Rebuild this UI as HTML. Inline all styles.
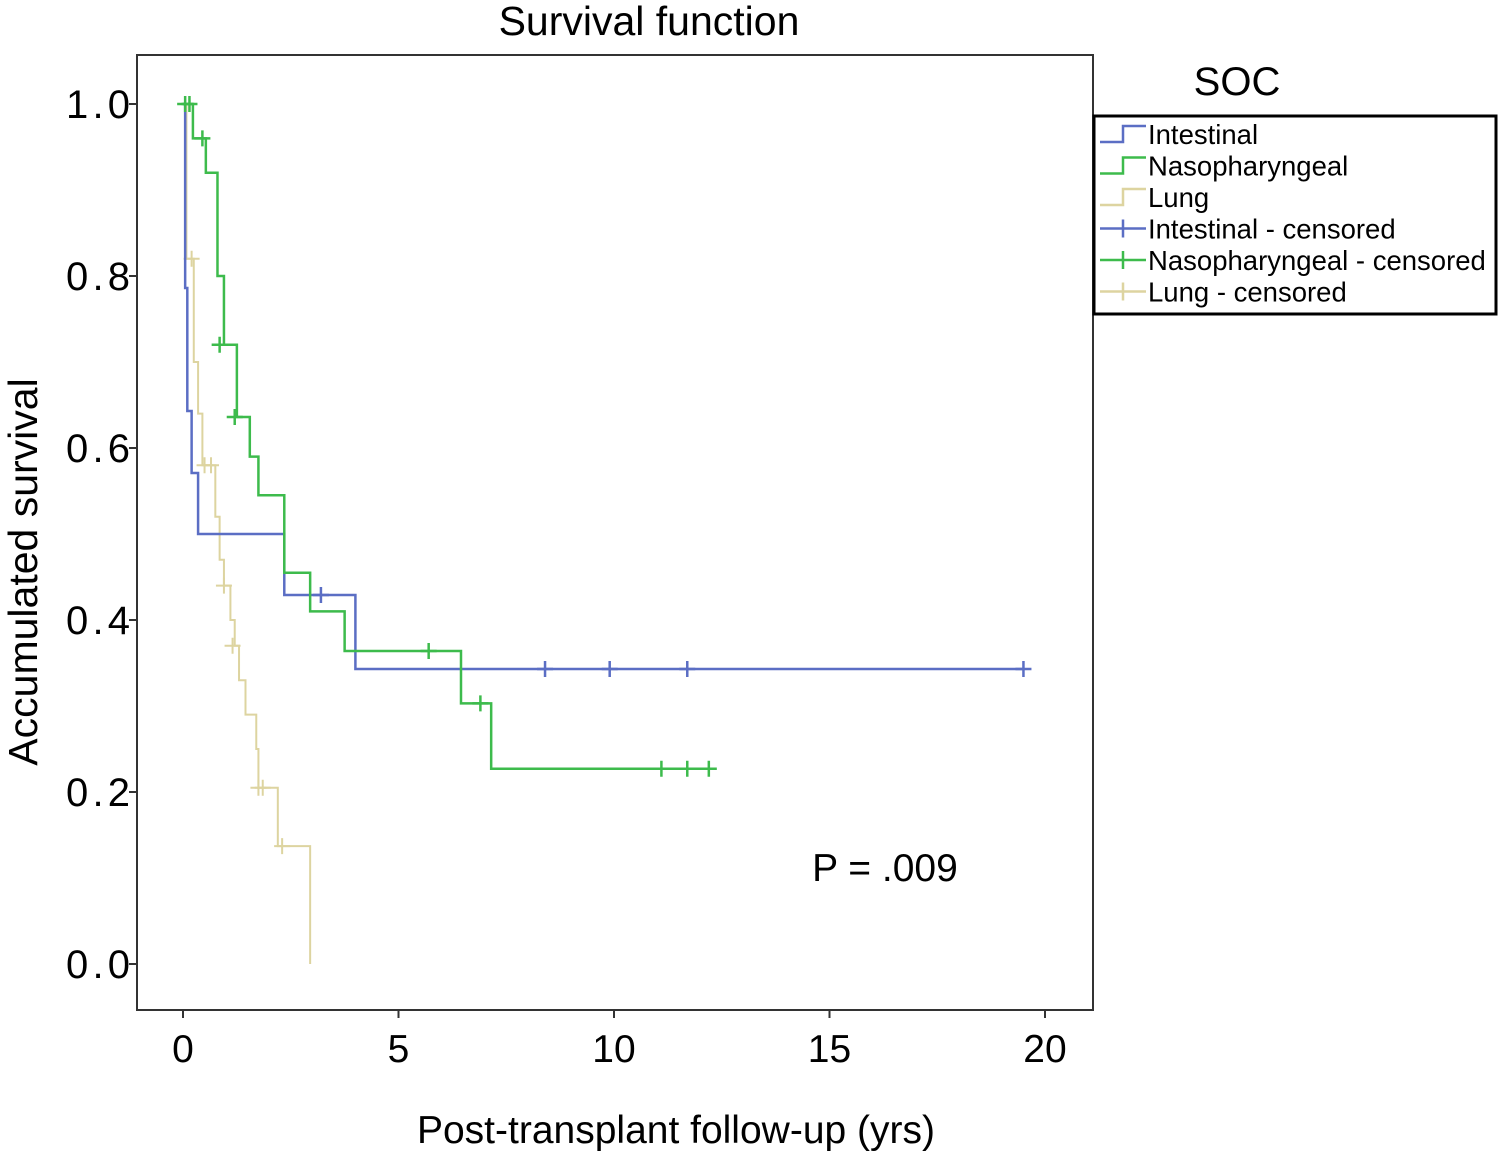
<!DOCTYPE html>
<html><head><meta charset="utf-8"><style>
body{margin:0;background:#fff;}
svg text{font-family:"Liberation Sans",sans-serif;fill:#000;}
</style></head><body>
<svg width="1498" height="1152">
<text x="649" y="35" font-size="41" text-anchor="middle">Survival function</text>
<rect x="137" y="55" width="956" height="955" fill="none" stroke="#333" stroke-width="2"/>
<g id="axes"></g>
<g id="series"></g>
<text x="676" y="1143" font-size="39" text-anchor="middle">Post-transplant follow-up (yrs)</text>
<text transform="translate(37,572) rotate(-90)" font-size="41" text-anchor="middle">Accumulated survival</text>
<text x="885" y="881" font-size="39" text-anchor="middle">P = .009</text>
<text x="1237" y="95" font-size="40" text-anchor="middle">SOC</text>
<g>
<rect x="1094" y="116" width="402" height="198" fill="#fff" stroke="#000" stroke-width="3"/>
<g id="legend-items"></g>
</g>
</svg>
<script>
const xTicks=[0,5,10,15,20];
const yTicks=[0.0,0.2,0.4,0.6,0.8,1.0];
const intT=[0,0.05,0.1,0.2,0.35,2.35,4.0,19.5];
const intS=[1.0,0.786,0.643,0.571,0.5,0.429,0.343,0.343];
const intCT=[3.2,8.4,9.9,11.7,19.5];
const intCS=[0.429,0.343,0.343,0.343,0.343];
const nasT=[0,0.23,0.53,0.8,0.95,1.25,1.55,1.75,2.35,2.95,3.75,6.45,7.15,12.2];
const nasS=[1.0,0.96,0.92,0.8,0.72,0.636,0.59,0.545,0.455,0.41,0.364,0.303,0.227,0.227];
const nasCT=[0.05,0.15,0.45,0.85,1.2,5.7,6.9,11.1,11.7,12.2];
const nasCS=[1.0,1.0,0.96,0.72,0.636,0.364,0.303,0.227,0.227,0.227];
const lungT=[0,0.08,0.25,0.35,0.45,0.75,0.85,0.95,1.1,1.2,1.3,1.45,1.7,1.75,2.2,2.95];
const lungS=[1.0,0.82,0.70,0.64,0.58,0.52,0.47,0.44,0.40,0.37,0.33,0.29,0.25,0.205,0.137,0.0];
const lungCT=[0.2,0.5,0.65,0.95,1.15,1.75,1.85,2.3];
const lungCS=[0.82,0.58,0.58,0.44,0.37,0.205,0.205,0.137];
const NS='http://www.w3.org/2000/svg';
const xs=v=>183+v*43.1, ys=v=>964-v*860;
const ax=document.getElementById('axes'), sg=document.getElementById('series');
function mk(tag,attrs,parent){const e=document.createElementNS(NS,tag);for(const k in attrs)e.setAttribute(k,attrs[k]);parent.appendChild(e);return e;}
xTicks.forEach(t=>{
 const l=mk('line',{x1:xs(t),x2:xs(t),y1:1010,y2:1018,stroke:'#333','stroke-width':2},ax);
 
 
 const tx=mk('text',{x:xs(t),y:1062,'font-size':39,'text-anchor':'middle'},ax);tx.textContent=t;
 
 
});
yTicks.forEach(t=>{
 const l=mk('line',{x1:129,x2:137,y1:ys(t),y2:ys(t),stroke:'#333','stroke-width':2},ax);
 
 
 const tx=mk('text',{x:66,y:ys(t)+14,'font-size':40,textLength:64,lengthAdjust:'spacing'},ax);tx.textContent=t.toFixed(1);
 
 
});
function series(T,S,CT,CS,color,name,w){
 let d='M'+xs(T[0])+','+ys(S[0]);
 for(let i=1;i<T.length;i++){d+=' H'+xs(T[i])+' V'+ys(S[i]);}
 const p=mk('path',{d:d,fill:'none',stroke:color,'stroke-width':w},sg);
 
 
 CT.forEach((c,i)=>{
  const x=xs(c),y=ys(CS[i]);
  const g=mk('path',{d:`M${x-8},${y} H${x+8} M${x},${y-8} V${y+8}`,stroke:color,'stroke-width':w},sg);
  
  
 });
}
series(lungT,lungS,lungCT,lungCS,'#ddd4a0','lung',2);
series(intT,intS,intCT,intCS,'#5b6ec4','intestinal',2.5);
series(nasT,nasS,nasCT,nasCS,'#3dbb4c','nasopharyngeal',2.5);
const leg=[['Intestinal','#5b6ec4',0],['Nasopharyngeal','#3dbb4c',0],['Lung','#ddd4a0',0],['Intestinal - censored','#5b6ec4',1],['Nasopharyngeal - censored','#3dbb4c',1],['Lung - censored','#ddd4a0',1]];
const lg=document.getElementById('legend-items');
leg.forEach((e,i)=>{
 const y=134+i*31.5;
 const g=mk('g',{},lg);
 
 
 if(e[2]) mk('path',{d:`M1100,${y} H1146 M1123,${y-9} V${y+9}`,stroke:e[1],'stroke-width':2.5,fill:'none'},g);
 else mk('path',{d:`M1100,${y+8} H1123 V${y-8} H1146`,stroke:e[1],'stroke-width':2.5,fill:'none'},g);
 const t=mk('text',{x:1148,y:y+10,'font-size':27.5},g);t.textContent=e[0];
});
</script>
</body></html>
